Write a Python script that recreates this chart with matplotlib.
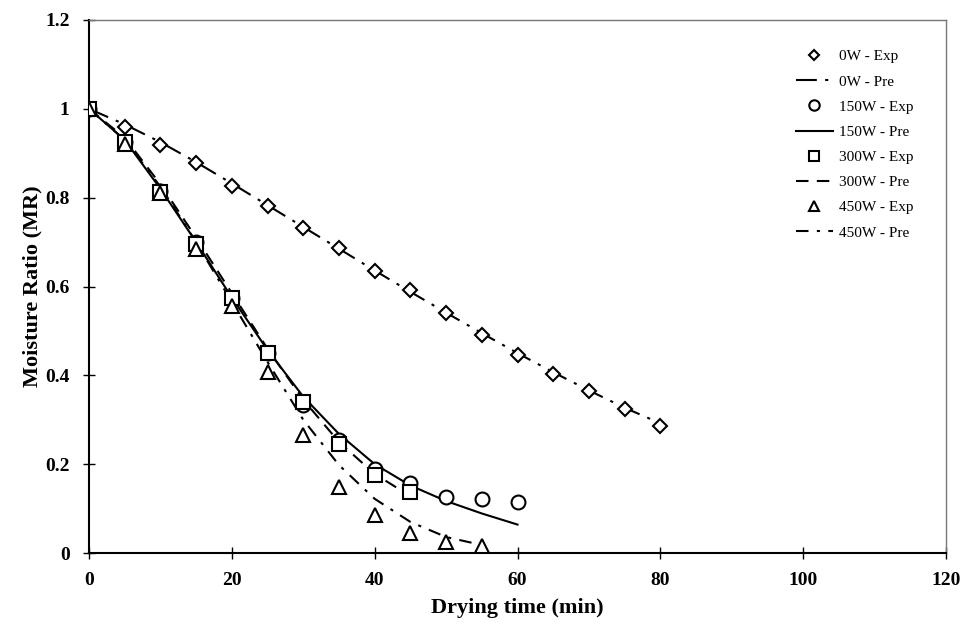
import matplotlib
matplotlib.use("Agg")
import matplotlib.pyplot as plt

t_0w = [0, 5, 10, 15, 20, 25, 30, 35, 40, 45, 50, 55, 60, 65, 70, 75, 80]
exp_0w = [1.0, 0.96, 0.918, 0.877, 0.826, 0.781, 0.732, 0.686, 0.635, 0.592, 0.540, 0.491, 0.446, 0.404, 0.365, 0.324, 0.286]
pre_0w = [1.0, 0.965, 0.925, 0.88, 0.832, 0.783, 0.734, 0.685, 0.636, 0.588, 0.541, 0.495, 0.450, 0.407, 0.366, 0.327, 0.292]

t_150 = [0, 5, 10, 15, 20, 25, 30, 35, 40, 45, 50, 55, 60]
exp_150 = [1.0, 0.925, 0.815, 0.70, 0.575, 0.45, 0.333, 0.255, 0.188, 0.158, 0.126, 0.122, 0.115]
pre_150 = [1.0, 0.93, 0.82, 0.70, 0.575, 0.457, 0.352, 0.268, 0.200, 0.152, 0.117, 0.089, 0.064]

t_300 = [0, 5, 10, 15, 20, 25, 30, 35, 40, 45]
exp_300 = [1.0, 0.925, 0.812, 0.695, 0.575, 0.45, 0.34, 0.245, 0.175, 0.138]
pre_300 = [1.0, 0.935, 0.83, 0.71, 0.585, 0.46, 0.345, 0.25, 0.178, 0.128]

t_450 = [0, 5, 10, 15, 20, 25, 30, 35, 40, 45, 50, 55]
exp_450 = [1.0, 0.92, 0.81, 0.685, 0.555, 0.407, 0.266, 0.149, 0.086, 0.045, 0.025, 0.016]
pre_450 = [1.0, 0.93, 0.825, 0.70, 0.565, 0.43, 0.30, 0.198, 0.122, 0.07, 0.036, 0.018]

x_ticks = [0, 20, 40, 60, 80, 100, 120]
y_ticks = [0, 0.2, 0.4, 0.6, 0.8, 1.0, 1.2]
y_labels = ["0", "0.2", "0.4", "0.6", "0.8", "1", "1.2"]

plt.rcParams['font.family'] = ['Liberation Serif', 'DejaVu Serif']

fig = plt.figure(figsize=(9.72, 6.3), dpi=100)
ax = fig.add_axes([89/972, 77/630, (946-89)/972, (553-20)/630])

mk = dict(linestyle='none', markerfacecolor='white', markeredgecolor='black', markeredgewidth=1.5, color='black')
lw = 1.5

ax.plot(t_0w, exp_0w, marker='D', markersize=7, label='0W - Exp', zorder=3, **mk)
ax.plot(t_0w, pre_0w, color='black', lw=lw, dashes=(10, 4, 1.5, 4), label='0W - Pre', zorder=2)
ax.plot(t_150, exp_150, marker='o', markersize=10, label='150W - Exp', zorder=3, **mk)
ax.plot(t_150, pre_150, color='black', lw=lw, linestyle='-', label='150W - Pre', zorder=2)
ax.plot(t_300, exp_300, marker='s', markersize=10, label='300W - Exp', zorder=3, **mk)
ax.plot(t_300, pre_300, color='black', lw=lw, dashes=(6, 4), label='300W - Pre', zorder=2)
ax.plot(t_450, exp_450, marker='^', markersize=10, label='450W - Exp', zorder=3, **mk)
ax.plot(t_450, pre_450, color='black', lw=lw, dashes=(6, 4, 1.5, 4), label='450W - Pre', zorder=2)

ax.set_xlim(0, 120)
ax.set_ylim(0, 1.2)
ax.set_xticks(x_ticks)
ax.set_yticks(y_ticks)
ax.set_yticklabels(y_labels)
ax.tick_params(direction='inout', length=8, width=1, labelsize=14)
ax.tick_params(axis='x', pad=10)
ax.tick_params(axis='y', pad=10)
for lab in ax.get_xticklabels() + ax.get_yticklabels():
    lab.set_fontweight('bold')
for side in ['left', 'bottom']:
    ax.spines[side].set_linewidth(1.5)
for side in ['top', 'right']:
    ax.spines[side].set_linewidth(1.0)
    ax.spines[side].set_color('#777777')

ax.set_xlabel('Drying time (min)', fontsize=16, fontweight='bold', labelpad=6)
ax.set_ylabel('Moisture Ratio (MR)', fontsize=16, fontweight='bold', labelpad=2)

leg = ax.legend(loc='upper right', bbox_to_anchor=(0.978, 0.97), frameon=False, fontsize=11,
                handlelength=2.4, labelspacing=0.75, handletextpad=0.4, markerscale=0.75)

fig.savefig('out.png', dpi=100)
